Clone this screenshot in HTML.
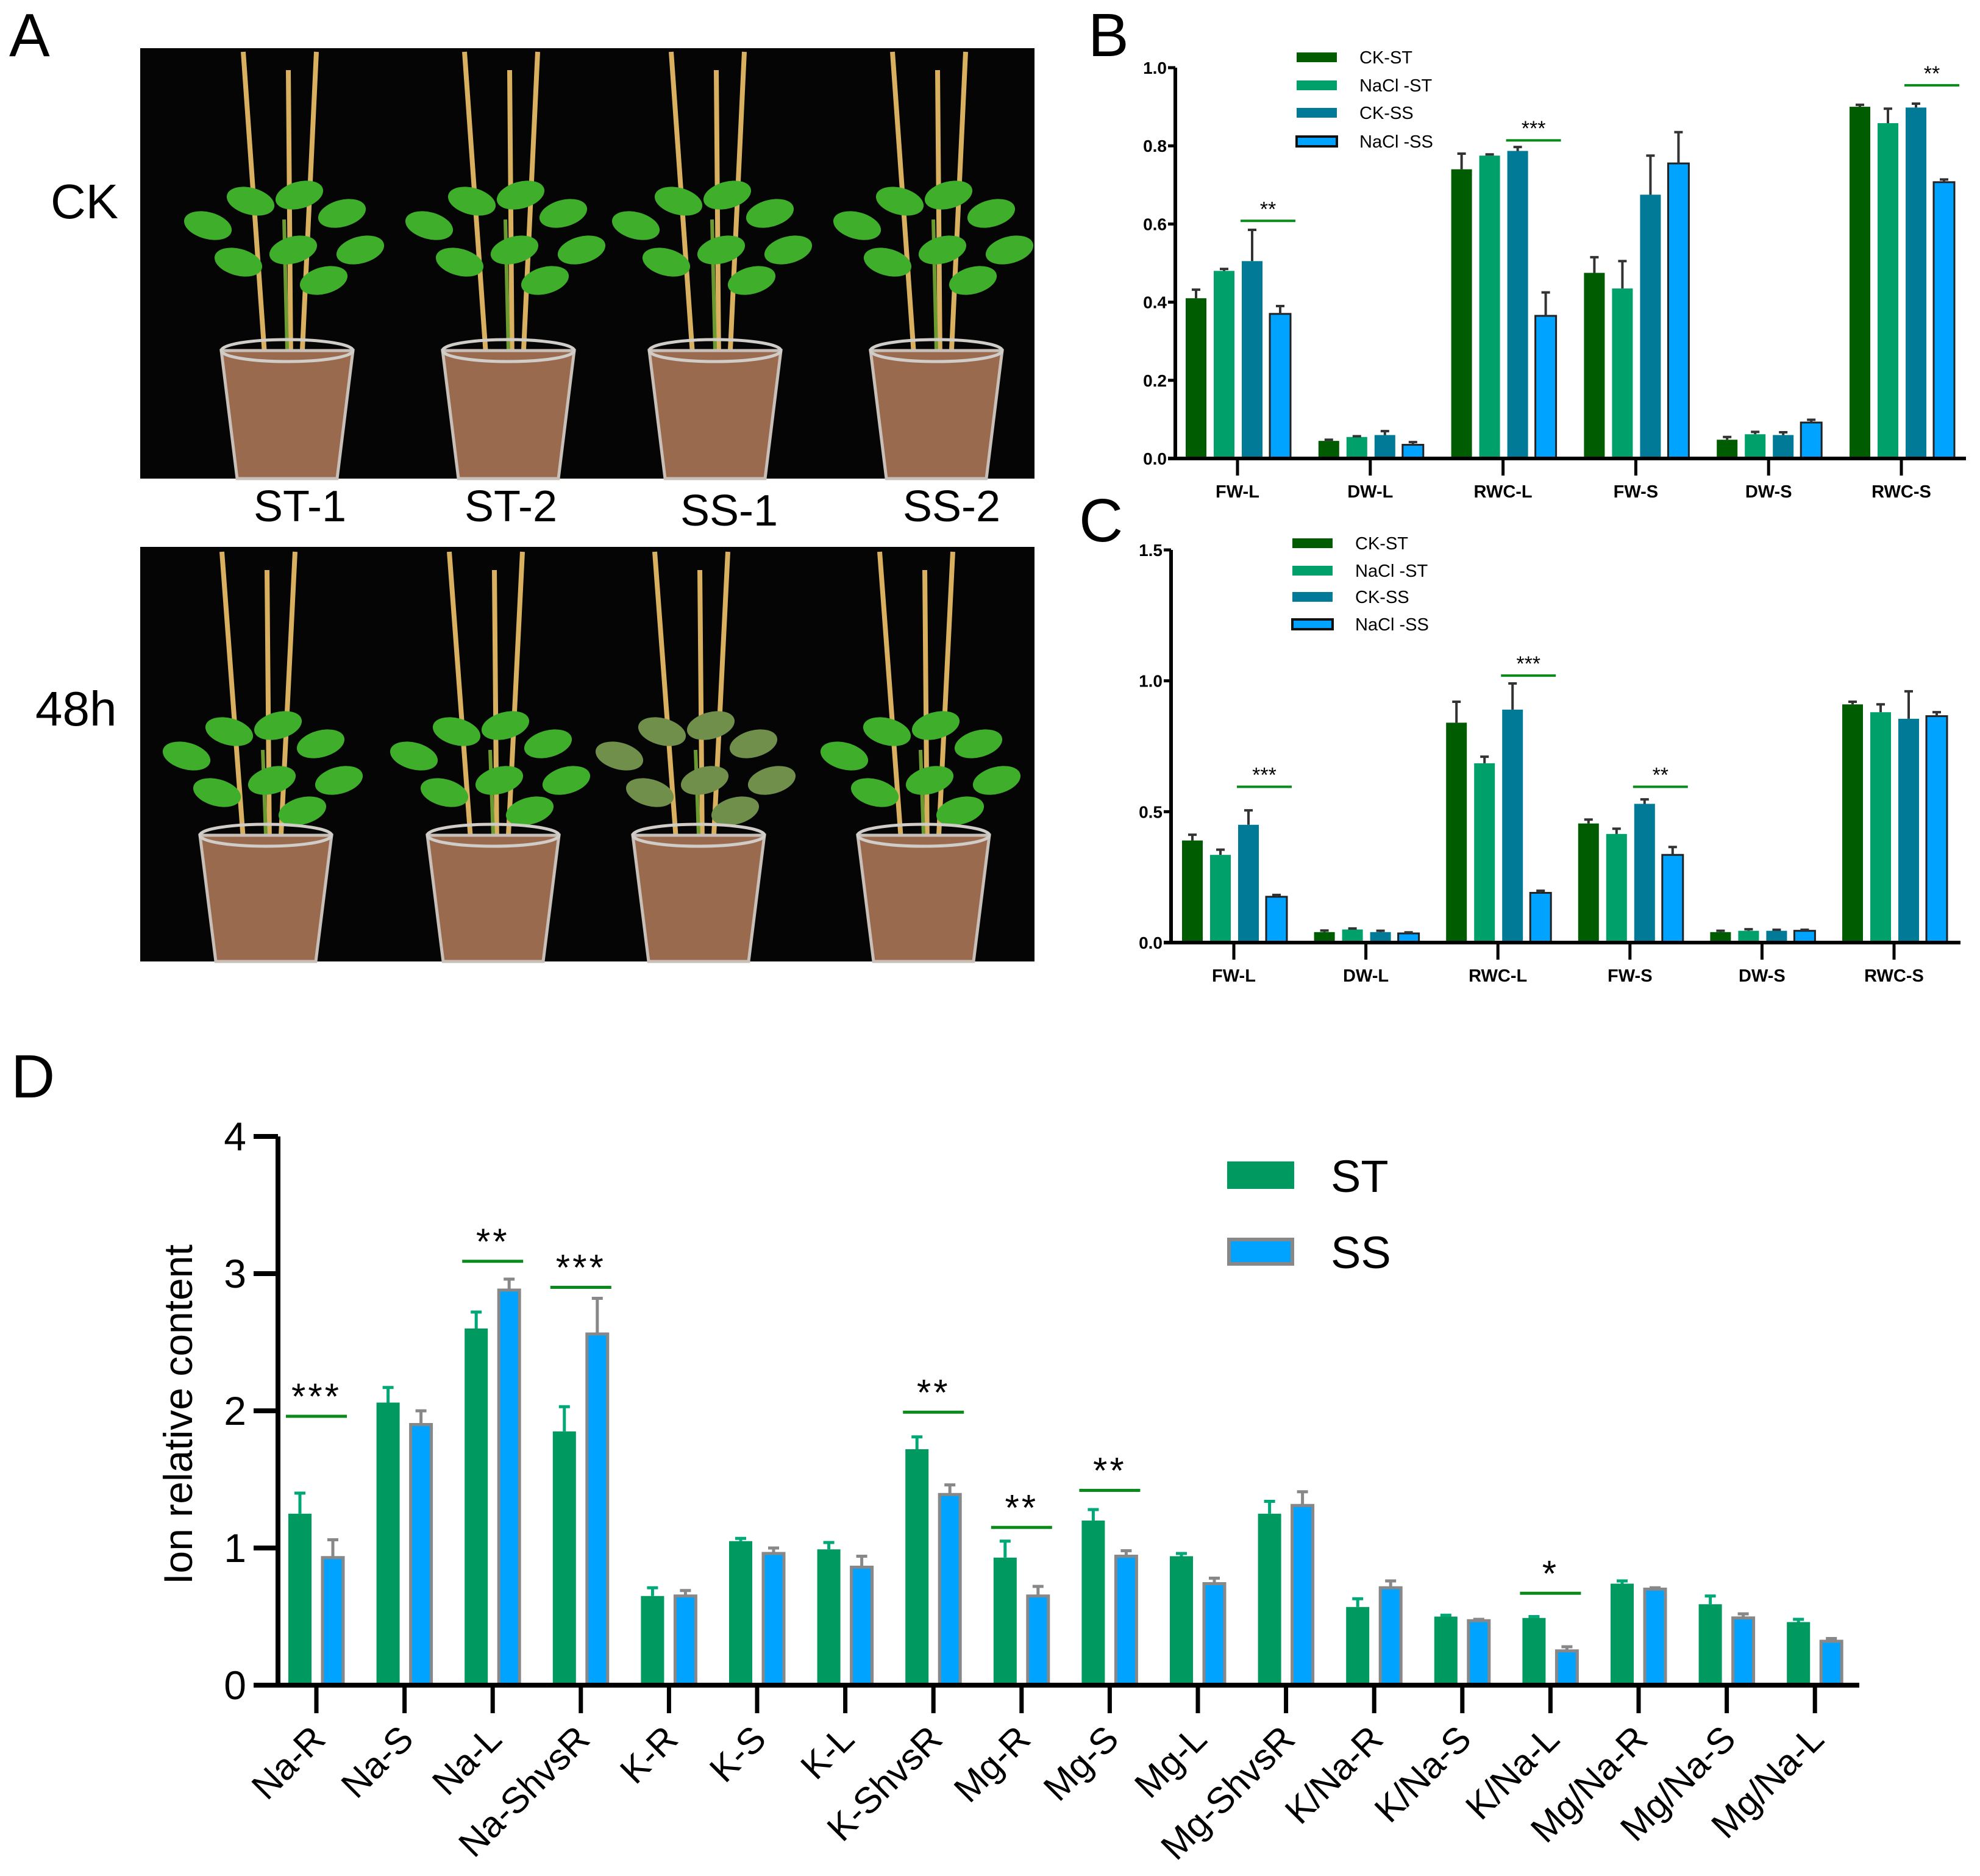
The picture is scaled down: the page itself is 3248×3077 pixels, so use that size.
<!DOCTYPE html>
<html><head><meta charset="utf-8">
<style>
html,body{margin:0;padding:0;background:#fff;}
svg{display:block;}
text{font-family:"Liberation Sans",Arial,sans-serif;}
</style></head>
<body>
<svg id="fig" width="3248" height="3077" viewBox="0 0 3248 3077" xmlns="http://www.w3.org/2000/svg">
<rect width="3248" height="3077" fill="#fff"/>
<text x="15" y="92" font-size="100">A</text>
<text x="1785" y="92" font-size="100">B</text>
<text x="1770" y="888" font-size="100">C</text>
<text x="18" y="1800" font-size="100">D</text>

<g id="panelA">
<rect x="230" y="79" width="1467" height="706" fill="#050505"/>
<rect x="230" y="897" width="1467" height="680" fill="#050505"/>
<g id="plants"></g>
<text x="83" y="358" font-size="80">CK</text>
<text x="58" y="1190" font-size="80">48h</text>
<text x="492" y="855" font-size="72" text-anchor="middle">ST-1</text>
<text x="838" y="855" font-size="72" text-anchor="middle">ST-2</text>
<text x="1196" y="862" font-size="72" text-anchor="middle">SS-1</text>
<text x="1561" y="855" font-size="72" text-anchor="middle">SS-2</text>
</g>
<g id="panelB"></g>
<g id="panelC"></g>
<g id="panelD"></g>
</svg>
<script>
const NS="http://www.w3.org/2000/svg";
function mk(parent,tag,attrs,txt){const e=document.createElementNS(NS,tag);for(const k in attrs)e.setAttribute(k,attrs[k]);if(txt!==undefined)e.textContent=txt;parent.appendChild(e);return e;}

// ---- Panel B data ----
const catsB=["FW-L","DW-L","RWC-L","FW-S","DW-S","RWC-S"];
const seriesNames=["CK-ST","NaCl -ST","CK-SS","NaCl -SS"];
const bCKST=[0.41,0.045,0.74,0.475,0.048,0.90];
const bNaClST=[0.48,0.055,0.775,0.435,0.062,0.858];
const bCKSS=[0.505,0.06,0.787,0.675,0.06,0.898];
const bNaClSS=[0.37,0.035,0.365,0.755,0.092,0.707];
const bErrCKST=[0.022,0.003,0.04,0.04,0.007,0.005];
const bErrNaClST=[0.005,0.002,0.003,0.07,0.006,0.037];
const bErrCKSS=[0.08,0.01,0.01,0.1,0.007,0.01];
const bErrNaClSS=[0.02,0.007,0.06,0.08,0.007,0.007];
const bTicks=["0.0","0.2","0.4","0.6","0.8","1.0"];
const bSigCat=[0,2,5];
const bSigVal=[0.608,0.814,0.955];
const bSigLab=["**","***","**"];

// ---- Panel C data ----
const catsC=["FW-L","DW-L","RWC-L","FW-S","DW-S","RWC-S"];
const cCKST=[0.39,0.04,0.84,0.455,0.04,0.91];
const cNaClST=[0.335,0.05,0.685,0.415,0.045,0.88];
const cCKSS=[0.45,0.04,0.89,0.53,0.045,0.855];
const cNaClSS=[0.175,0.035,0.19,0.335,0.045,0.865];
const cErrCKST=[0.022,0.006,0.08,0.015,0.005,0.01];
const cErrNaClST=[0.02,0.004,0.025,0.02,0.006,0.03];
const cErrCKSS=[0.055,0.005,0.1,0.017,0.004,0.105];
const cErrNaClSS=[0.007,0.004,0.008,0.03,0.004,0.015];
const cTicks=["0.0","0.5","1.0","1.5"];
const cSigCat=[0,2,3];
const cSigVal=[0.595,1.02,0.595];
const cSigLab=["***","***","**"];

// ---- Panel D data ----
const catsD=["Na-R","Na-S","Na-L","Na-ShvsR","K-R","K-S","K-L","K-ShvsR","Mg-R","Mg-S","Mg-L","Mg-ShvsR","K/Na-R","K/Na-S","K/Na-L","Mg/Na-R","Mg/Na-S","Mg/Na-L"];
const dST=[1.25,2.06,2.60,1.85,0.65,1.05,0.99,1.72,0.93,1.20,0.94,1.25,0.57,0.50,0.49,0.74,0.59,0.46];
const dSS=[0.93,1.90,2.88,2.56,0.65,0.96,0.86,1.39,0.65,0.94,0.74,1.31,0.71,0.47,0.25,0.70,0.49,0.32];
const dErrST=[0.15,0.11,0.12,0.18,0.06,0.02,0.05,0.09,0.12,0.08,0.02,0.09,0.06,0.01,0.01,0.02,0.06,0.02];
const dErrSS=[0.13,0.10,0.08,0.26,0.04,0.04,0.08,0.07,0.07,0.04,0.04,0.10,0.05,0.01,0.03,0.01,0.03,0.02];
const dTicks=["0","1","2","3","4"];
const dSigCat=[0,2,3,7,8,9,14];
const dSigVal=[1.96,3.09,2.90,1.99,1.15,1.42,0.67];
const dSigLab=["***","**","***","**","**","**","*"];

const colsB=["#005c00","#00a06a","#007a96","#00a3ff"];

function groupedChart(g,o){
  const y=v=>o.y0-(v/o.ymax)*(o.y0-o.ytop);
  const x=i=>o.x0c+i*o.step;
  o.series.forEach((vals,s)=>{
    vals.forEach((v,i)=>{
      const bx=x(i)+o.offs[s]-o.bw/2;
      const r=mk(g,"rect",{x:bx,y:y(v),width:o.bw,height:o.y0-y(v),fill:colsB[s],stroke:s==3?"#222":"none","stroke-width":s==3?3:0});
      
      
      const e=o.errs[s][i];const cx=x(i)+o.offs[s];
      const l=mk(g,"path",{d:`M${cx},${y(v)}V${y(v+e)}M${cx-7},${y(v+e)}H${cx+7}`,stroke:"#333","stroke-width":4,fill:"none"});
      
      
    });
  });
  const ax=mk(g,"path",{d:`M${o.ax},${o.ytop}V${o.y0}M${o.ax-12},${o.y0}H${o.xend}`,stroke:"#000","stroke-width":6,fill:"none"});
  
  
  o.ticks.forEach(t=>{
    const yy=y(parseFloat(t));
    mk(g,"line",{x1:o.ax-12,x2:o.ax,y1:yy,y2:yy,stroke:"#000","stroke-width":5});
    const tl=mk(g,"text",{x:o.ax-14,y:yy+10,"font-size":28,"font-weight":"bold","text-anchor":"end"},t);
    
    
  });
  o.cats.forEach((c,i)=>{
    mk(g,"line",{x1:x(i),x2:x(i),y1:o.y0,y2:o.y0+28,stroke:"#000","stroke-width":5});
    const tl=mk(g,"text",{x:x(i),y:o.y0+64,"font-size":29,"font-weight":"bold","text-anchor":"middle"},c);
    
    
  });
  o.sigCat.forEach((ci,k)=>{
    const cx=x(ci)+o.sigOff;const yy=y(o.sigVal[k]);
    const sl=mk(g,"line",{x1:cx-45,x2:cx+45,y1:yy,y2:yy,stroke:"#0a8a1a","stroke-width":4});
    
    
    const st=mk(g,"text",{x:cx,y:yy-8,"font-size":34,"text-anchor":"middle"},o.sigLab[k]);
    
    
  });
  seriesNames.forEach((n,s)=>{
    const ly=o.legY[s];
    const sw=mk(g,"rect",{x:o.legX,y:ly-8,width:66,height:16,fill:colsB[s],stroke:s==3?"#111":"none","stroke-width":s==3?4:0});
    
    
    const lt=mk(g,"text",{x:o.legX+103,y:ly+10,"font-size":29},n);
    
    
  });
}
const offs=[-68,-22,24,70];
groupedChart(document.getElementById("panelB"),{cats:catsB,series:[bCKST,bNaClST,bCKSS,bNaClSS],errs:[bErrCKST,bErrNaClST,bErrCKSS,bErrNaClSS],
  y0:752,ytop:111,ymax:1.0,x0c:2030,step:217.8,offs:offs,bw:34,ax:1928,xend:3225,ticks:bTicks,
  sigCat:bSigCat,sigVal:bSigVal,sigLab:bSigLab,sigOff:50,legX:2127,legY:[94,140,185,232]});
groupedChart(document.getElementById("panelC"),{cats:catsC,series:[cCKST,cNaClST,cCKSS,cNaClSS],errs:[cErrCKST,cErrNaClST,cErrCKSS,cErrNaClSS],
  y0:1546,ytop:902,ymax:1.5,x0c:2024,step:216.6,offs:offs,bw:34,ax:1921,xend:3216,ticks:cTicks,
  sigCat:cSigCat,sigVal:cSigVal,sigLab:cSigLab,sigOff:50,legX:2120,legY:[891,936,979,1024]});

(function(){
  const g=document.getElementById("panelD");
  const y0=2764,ytop=1864,ymax=4,ax=456,xend=3050,x0=519,step=144.6,bw=38;
  const y=v=>y0-(v/ymax)*(y0-ytop);
  const x=i=>x0+i*step;
  catsD.forEach((c,i)=>{
    const cx=x(i);
    const v1=dST[i],v2=dSS[i];
    const r1=mk(g,"rect",{x:cx-46,y:y(v1),width:bw,height:y0-y(v1),fill:"#00995f"});
    
    
    const e1=mk(g,"path",{d:`M${cx-27},${y(v1)}V${y(v1+dErrST[i])}M${cx-36},${y(v1+dErrST[i])}H${cx-18}`,stroke:"#00a878","stroke-width":5,fill:"none"});
    
    
    const r2=mk(g,"rect",{x:cx+10,y:y(v2),width:bw-4,height:y0-y(v2),fill:"#00a3ff",stroke:"#888","stroke-width":5});
    
    
    const e2=mk(g,"path",{d:`M${cx+27},${y(v2)}V${y(v2+dErrSS[i])}M${cx+18},${y(v2+dErrSS[i])}H${cx+36}`,stroke:"#888","stroke-width":5,fill:"none"});
    
    
    mk(g,"line",{x1:cx,x2:cx,y1:y0,y2:y0+46,stroke:"#000","stroke-width":7});
    const tl=mk(g,"text",{x:0,y:0,"font-size":60,"text-anchor":"end",transform:`translate(${cx+18},${y0+92}) rotate(-45)`},c);
    
    
  });
  const axp=mk(g,"path",{d:`M${ax},${ytop}V${y0}M${ax-40},${y0}H${xend}`,stroke:"#000","stroke-width":8,fill:"none"});
  
  
  dTicks.forEach(t=>{
    const yy=y(parseFloat(t));
    mk(g,"line",{x1:ax-40,x2:ax,y1:yy,y2:yy,stroke:"#000","stroke-width":8});
    const tl=mk(g,"text",{x:ax-52,y:yy+23,"font-size":66,"text-anchor":"end"},t);
    
    
  });
  const yt=mk(g,"text",{x:0,y:0,"font-size":66,"text-anchor":"middle",transform:"translate(315,2320) rotate(-90)"},"Ion relative content");
  
  
  dSigCat.forEach((ci,k)=>{
    const cx=x(ci);const yy=y(dSigVal[k]);
    const sl=mk(g,"line",{x1:cx-50,x2:cx+50,y1:yy,y2:yy,stroke:"#0a8a1a","stroke-width":5});
    
    
    const st=mk(g,"text",{x:cx,y:yy-12,"font-size":60,"text-anchor":"middle","letter-spacing":"4"},dSigLab[k]);
    
    
  });
  const s1=mk(g,"rect",{x:2013,y:1905,width:110,height:45,fill:"#00995f"});
  
  
  const s2=mk(g,"rect",{x:2016,y:2033,width:104,height:40,fill:"#00a3ff",stroke:"#888","stroke-width":6});
  
  
  const l1=mk(g,"text",{x:2183,y:1955,"font-size":74},"ST");
  
  
  const l2=mk(g,"text",{x:2183,y:2080,"font-size":74},"SS");
  
  
})();

(function(){
  const g=document.getElementById("plants");
  const rows=[{rim:575,bot:785,cx:[471,834,1173,1536],leafY:360,wilt:[0,0,0,0]},
              {rim:1370,bot:1577,cx:[436,809,1146,1515],leafY:1230,wilt:[0,0,1,0]}];
  rows.forEach((r,ri)=>{
    r.cx.forEach((cx,pi)=>{
      const top=ri==0?85:905;
      [-60,10,40].forEach((dx,k)=>{
        const st=mk(g,"line",{x1:cx+dx*0.6,y1:r.rim+20,x2:cx+dx*1.2+(k==1?-10:0),y2:top+(k==1?30:0),stroke:"#d9b060","stroke-width":8});
        
        
      });
      mk(g,"line",{x1:cx,y1:r.rim,x2:cx-5,y2:r.leafY,stroke:"#6a9a30","stroke-width":6});
      const col=r.wilt[pi]?"#6f8f4a":"#3fae2a";
      const leaves=[[-130,10],[-60,-30],[20,-40],[90,-10],[120,50],[-80,70],[10,50],[60,100]];
      leaves.forEach(([lx,ly])=>{
        const e=mk(g,"ellipse",{cx:cx+lx,cy:r.leafY+ly,rx:40,ry:22,fill:col,transform:`rotate(${lx>0?-15:15} ${cx+lx} ${r.leafY+ly})`});
        
        
      });
      const p=mk(g,"path",{d:`M${cx-108},${r.rim}L${cx+108},${r.rim}L${cx+82},${r.bot}L${cx-82},${r.bot}Z`,fill:"#9a6a4e",stroke:"#c8c0b8","stroke-width":5});
      
      
      mk(g,"ellipse",{cx:cx,cy:r.rim,rx:108,ry:18,fill:"none",stroke:"#d0ccc8","stroke-width":5});
    });
  });
})();
</script>
</body></html>
